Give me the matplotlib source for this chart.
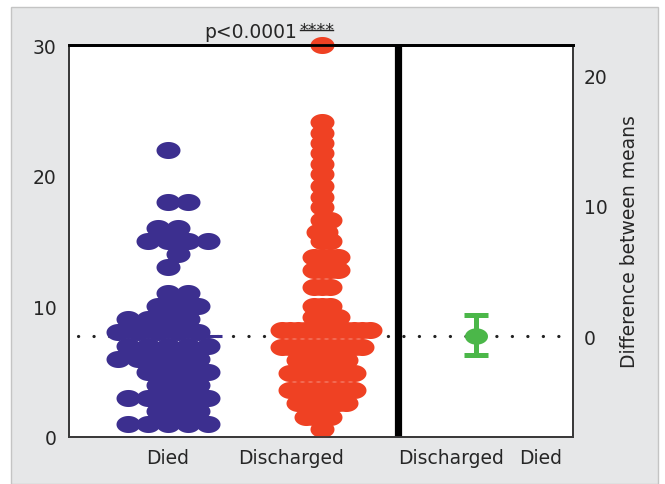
import numpy as np
import matplotlib
matplotlib.use('Agg')
import matplotlib.pyplot as plt
from matplotlib.path import Path
from matplotlib.patches import Rectangle
from matplotlib.lines import Line2D

# ---------------- data ----------------
groups = ['Died', 'Discharged']
died_values = [1, 2, 3, 4, 5, 6, 7, 8, 9, 10, 11, 13, 14, 15, 16, 18, 22]
died_counts = [5, 3, 5, 3, 4, 5, 5, 5, 4, 3, 2, 1, 1, 4, 2, 2, 1]
discharged_values = [0.6, 1.5, 2.6, 3.6, 4.9, 5.9, 6.9, 8.2, 9.2, 10.0, 11.5, 12.8,
                     13.8, 15.0, 15.7, 16.6, 17.6, 18.4, 19.2, 20.1, 20.9, 21.7,
                     22.5, 23.3, 24.1, 30.0]
discharged_counts = [1, 4, 7, 9, 9, 7, 11, 12, 4, 3, 3, 4, 4, 2, 2, 2, 1, 1, 1, 1,
                     1, 1, 1, 1, 1, 1]
reference_mean = 7.7          # mean of "Died" (dotted reference line)
diff_mean = 0.0               # difference between means
diff_ci = (-1.4, 1.6)         # 95% CI of the difference
left_ticks = [0, 10, 20, 30]
right_ticks = [0, 10, 20]
xtick_labels = ['Died', 'Discharged', 'Discharged', 'Died']
p_text = 'p<0.0001'
stars_text = '****'
right_label = 'Difference between means'

# ---------------- style / layout ----------------
W, H = 665, 485
BLUE = '#3c2f8f'
RED = '#ef4123'
GREEN = '#4bb749'
TXT = '#262626'
FS = 13.5
plt.rcParams['font.family'] = ['DejaVu Sans']

fig = plt.figure(figsize=(W / 100, H / 100), dpi=100, facecolor='white')
fig.patches.append(Rectangle((11 / W, 0), (658 - 11) / W, (H - 8) / H,
                             transform=fig.transFigure, facecolor='#e6e7e8',
                             edgecolor='#c4c4c4', lw=1.0, zorder=-10))

ax = fig.add_axes([69 / W, (H - 438) / H, (573 - 69) / W, (438 - 46) / H])
ax.set_facecolor('white')
xmin, xmax = -0.643, 2.630
ax.set_xlim(xmin, xmax)
ax.set_ylim(0, 30)

px_per_x = ax.bbox.width / (xmax - xmin)
px_per_y = ax.bbox.height / 30.0

# ellipse marker (dots in the reference are wider than tall)
th = np.linspace(0, 2 * np.pi, 73)
ellipse = Path(np.column_stack([np.cos(th), 0.71 * np.sin(th)]), closed=True)


def swarm(values, counts, center, cw, ch):
    """Greedy beeswarm layout in pixel space; returns data x, y."""
    ys = np.repeat(np.asarray(values, float), counts)
    placed = []
    xs = []
    for k, v in enumerate(ys):
        yp = v * px_per_y
        d = 0
        while True:
            cands = [0] if d == 0 else ([-d, d] if k % 2 == 0 else [d, -d])
            ok = None
            for c in cands:
                good = True
                for (px, py) in placed:
                    if ((c - px) / cw) ** 2 + ((yp - py) / ch) ** 2 < 1:
                        good = False
                        break
                if good:
                    ok = c
                    break
            if ok is not None:
                break
            d += 1
        placed.append((ok, yp))
        xs.append(center + ok / px_per_x)
    return np.array(xs), ys


dx, dy = swarm(died_values, died_counts, 0.0, cw=20, ch=15)
rx, ry = swarm(discharged_values, discharged_counts, 1.0, cw=8, ch=10)

msize = (24 * 0.72) ** 2  # marker width 24 px
# reference dotted line
ax.plot([-0.584, xmax], [reference_mean, reference_mean], color='#222222',
        lw=2.3, linestyle=(0, (0.05, 4.8)), dash_capstyle='round', zorder=1)
ax.scatter(dx, dy, s=msize, marker=ellipse, color=BLUE, linewidths=0,
           zorder=3, clip_on=False)
ax.scatter(rx, ry, s=msize, marker=ellipse, color=RED, linewidths=0,
           zorder=3, clip_on=False)
# mean line of Died
ax.plot([-0.33, 0.35], [reference_mean, reference_mean], color=BLUE, lw=2.2,
        zorder=4, solid_capstyle='butt')
# separator
ax.axvline(1.494, color='black', lw=5.2, zorder=5)

ax.set_yticks(left_ticks)
ax.set_xticks([0.0, 0.80, 1.84, 2.42])
ax.set_xticklabels(xtick_labels)
ax.tick_params(axis='y', length=0, pad=9, labelsize=FS, labelcolor=TXT)
ax.tick_params(axis='x', length=0, pad=8, labelsize=FS, labelcolor=TXT)

ax2 = ax.twinx()
ax2.set_ylim(-reference_mean, 30 - reference_mean)
ax2.set_yticks(right_ticks)
ax2.tick_params(axis='y', length=0, pad=8, labelsize=FS, labelcolor=TXT)
ax2.set_ylabel(right_label, fontsize=FS, color=TXT, labelpad=9)
ax2.errorbar([2.0], [diff_mean],
             yerr=[[diff_mean - diff_ci[0]], [diff_ci[1] - diff_mean]],
             fmt='none', ecolor=GREEN, elinewidth=3.6, capsize=8.6,
             capthick=3.6, zorder=6)
ax2.scatter([2.0], [diff_mean], s=(23 * 0.72) ** 2, marker=ellipse,
            color=GREEN, linewidths=0, zorder=7)

for a in (ax, ax2):
    for side in ('left', 'right', 'bottom'):
        a.spines[side].set_color('#3a3a3a')
        a.spines[side].set_linewidth(1.3)
    a.spines['top'].set_color('black')
    a.spines['top'].set_linewidth(2.0)

# significance annotation
fig.text(251 / W, 1 - 38 / H, p_text, ha='center', va='baseline',
         fontsize=FS, color=TXT)
fig.text(317 / W, 1 - 36 / H, stars_text, ha='center', va='baseline',
         fontsize=12.5, color=TXT)
fig.lines.append(Line2D([300 / W, 333 / W], [1 - 31 / H, 1 - 31 / H],
                        transform=fig.transFigure, color=TXT, lw=1.0))

fig.savefig('out.png', dpi=100, facecolor=fig.get_facecolor())
